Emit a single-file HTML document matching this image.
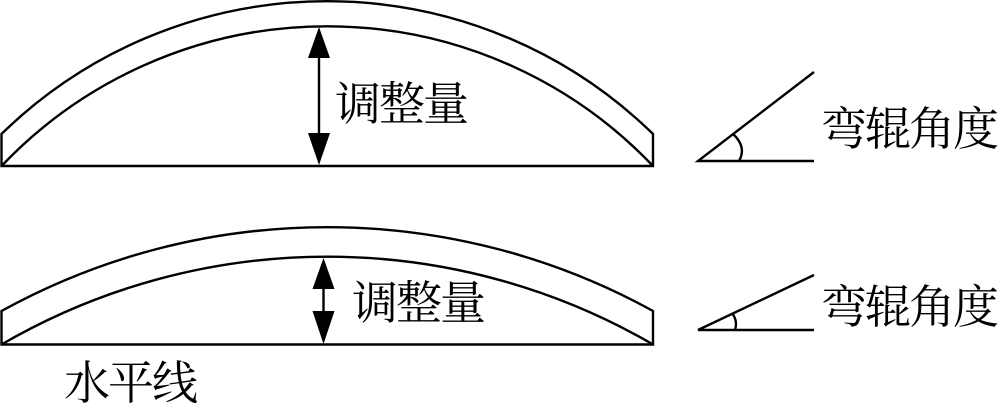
<!DOCTYPE html>
<html><head><meta charset="utf-8"><style>
html,body{margin:0;padding:0;background:#fff}
svg{display:block}
text{font-family:"Liberation Serif","Noto Serif CJK SC",serif;font-size:46px;fill:#000}
</style></head><body>
<svg width="1000" height="405" viewBox="0 0 1000 405" xmlns="http://www.w3.org/2000/svg">
<g fill="none" stroke="#000" stroke-width="2.4">
<path d="M1.500 166H653V134A466 466 0 0 0 1.500 134Z"/>
<path d="M1.500 166A449.600 449.600 0 0 1 653 166"/>
<path d="M1.500 344.500H653V311A674.600 674.600 0 0 0 1.500 311Z"/>
<path d="M1.500 344.500A648 648 0 0 1 653 344.500"/>
<path d="M319 55V136M323.500 286V314"/>
<path d="M814 72L698 161H814M733 134Q747 147 739 161"/>
<path d="M814 275L698 330H814M732 313Q738 321 735 330"/>
</g>
<path d="M319 27L330 58H308ZM319 165L330 133H308ZM323.500 258L334.500 289H312.500ZM323.500 344L334.500 311H312.500Z" fill="#000"/>
<text x="335" y="120" textLength="134">调整量</text>
<text x="352" y="319" textLength="134">调整量</text>
<text x="821" y="145" textLength="178">弯辊角度</text>
<text x="821" y="323" textLength="178">弯辊角度</text>
<text x="64" y="399" textLength="134">水平线</text>
</svg>
</body></html>
